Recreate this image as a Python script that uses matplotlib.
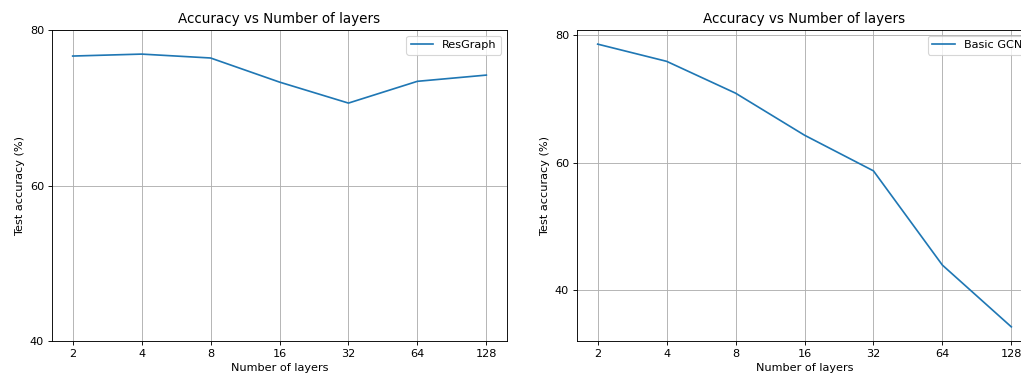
import matplotlib
matplotlib.use("Agg")
from matplotlib import pyplot as plt

layers = [2, 4, 8, 16, 32, 64, 128]
resgraph_acc = [76.65, 76.9, 76.4, 73.3, 70.6, 73.4, 74.2]
gcn_acc = [78.6, 75.9, 70.9, 64.3, 58.7, 43.9, 34.2]
layer_labels = [str(n) for n in layers]

# reference looks like a default figure shrunk by ~0.81, so draw at dpi 81
DPI = 81
W, H = 1022, 376
fig = plt.figure(figsize=(W / DPI, H / DPI), dpi=DPI)

# axes placed in pixels; the right panel runs past the image edge as in the reference
ax1 = fig.add_axes([52 / W, 35 / H, 455 / W, 311 / H])
ax2 = fig.add_axes([577 / W, 35 / H, 455 / W, 311 / H])

ax1.plot(layers, resgraph_acc, label='ResGraph')
ax1.set_ylim(40, 80)
ax1.set_yticks([40, 60, 80])

ax2.plot(layers, gcn_acc, label='Basic GCN')
ax2.set_yticks([40, 60, 80])

for ax in (ax1, ax2):
    ax.set_xscale('log', base=2)
    ax.set_xticks(layers, labels=layer_labels)
    ax.minorticks_off()
    ax.grid(True)
    ax.set_title('Accuracy vs Number of layers')
    ax.set_xlabel('Number of layers')
    ax.set_ylabel('Test accuracy (%)')
    ax.legend(loc='upper right')

fig.savefig('out.png', dpi=DPI)
